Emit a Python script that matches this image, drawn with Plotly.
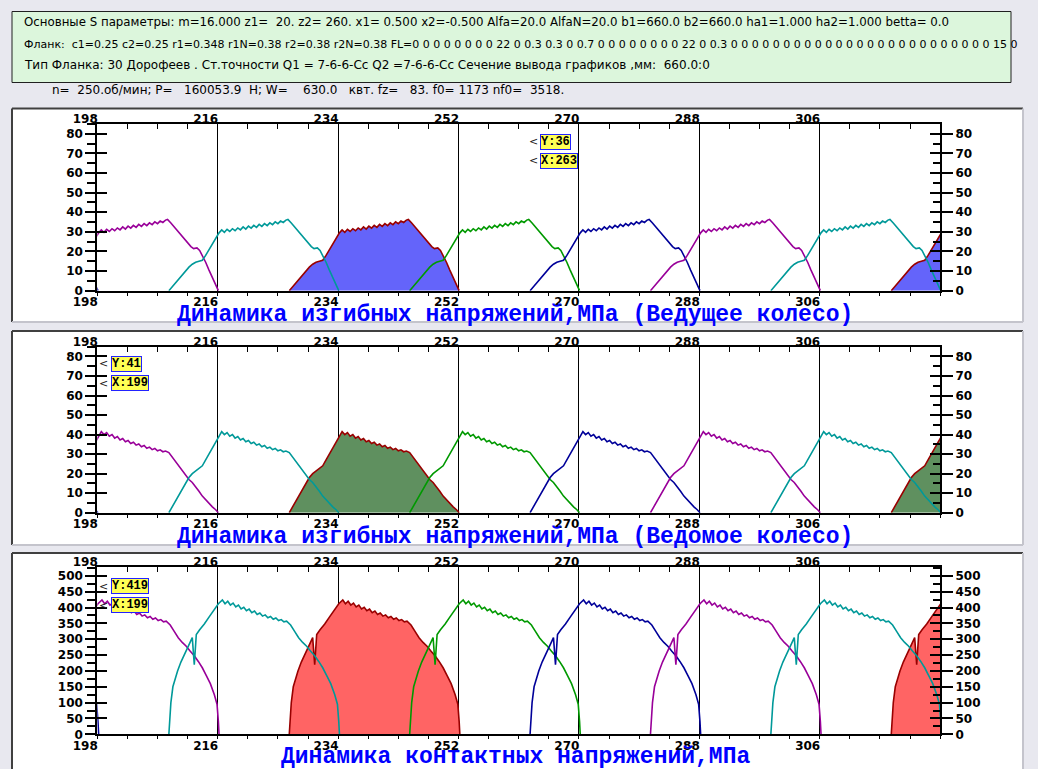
import plotly.graph_objects as go

W, H = 1038, 769

# ---------------- data ----------------
x_range = [198, 324]
x_tick_vals = [198, 216, 234, 252, 270, 288, 306]
x_minor_step = 4.5

# start angle of each tooth contact (deg) and which curve colour it gets
tooth_starts = [172.7, 190.7, 208.7, 226.7, 244.7, 262.7, 280.7, 298.7, 316.7]
tooth_roles = ["navy", "purple", "teal", "main", "green", "navy", "purple", "teal", "main"]

# one tooth: bending stress, driving gear (angle from contact start, MPa)
bend1_t = [0.0, 0.5, 1.0, 1.5, 2.0, 2.5, 3.0, 3.5, 4.0, 4.5, 5.0, 5.5, 6.0, 6.5, 7.0, 7.5,
           7.9, 8.3, 8.7, 9.1, 9.5, 9.9, 10.3, 10.7, 11.1, 11.5, 11.9, 12.3, 12.7, 13.1,
           13.5, 13.9, 14.3, 14.7, 15.1, 15.5, 15.9, 16.3, 16.7, 17.1, 17.5, 17.8,
           18.3, 18.8, 19.3, 19.8, 20.3, 20.8, 21.3, 21.7, 22.2, 22.6, 23.0, 23.5, 24.0,
           24.5, 25.0, 25.4]
bend1_v = [0, 2, 4.5, 6.5, 8.5, 10.5, 12, 13.5, 14.5, 15, 15.5, 18, 21, 24, 27, 29.5,
           31, 29.8, 31.3, 30.2, 31.6, 30.6, 32, 31, 32.5, 31.4, 32.9, 31.9, 33.3, 32.3,
           33.8, 32.8, 34.2, 33.2, 34.6, 33.7, 35.1, 34.2, 35.5, 34.8, 36, 36.3,
           34.5, 32.5, 30.5, 28.5, 26.5, 24.5, 22.5, 21.5, 21.8, 20.5, 18, 14.5, 10.5,
           6.5, 2.5, 0]

# one tooth: bending stress, driven gear
bend2_t = [0.0, 0.5, 1.0, 1.5, 2.0, 2.5, 3.0, 3.5, 4.0, 4.5, 5.0, 5.5, 6.0, 6.5, 7.0, 7.5, 7.9,
           8.3, 8.7, 9.1, 9.5, 9.9, 10.3, 10.7, 11.1, 11.5, 11.9, 12.3, 12.7, 13.1, 13.5,
           13.9, 14.3, 14.7, 15.1, 15.5, 15.9, 16.3, 16.7, 17.1, 17.5,
           18.0, 18.5, 19.0, 19.5, 20.0, 20.5, 21.0, 21.5, 22.0, 22.5, 23.0, 23.5, 24.0,
           24.5, 25.0, 25.4]
bend2_v = [0, 3, 6, 9, 12, 15.5, 18, 20, 21.5, 22.5, 24, 27, 30, 33.5, 36.5, 39.5, 41.5,
           40, 41, 39.2, 40, 38.2, 39, 37.2, 38, 36.3, 37, 35.4, 36.1, 34.6, 35.2,
           33.8, 34.4, 33, 33.6, 32.3, 32.9, 31.7, 32.2, 31.2, 31.6,
           30.8, 28.5, 26, 23.5, 21, 19, 17, 15.5, 13.5, 11, 8.5, 6.5, 4.5,
           3, 1.5, 0]

# one tooth: contact stress
contact_t = [0.0, 0.15, 0.3, 0.6, 1.0, 1.3, 1.8, 2.3, 2.8, 3.2, 3.5, 3.8, 4.1, 4.6, 5.3,
             6.0, 6.8, 7.4, 8.0,
             8.4, 8.8, 9.2, 9.6, 10.0, 10.4, 10.8, 11.2, 11.6, 12.0, 12.4, 12.8, 13.2,
             13.6, 14.0, 14.4, 14.8, 15.2, 15.6, 16.0, 16.4, 16.8, 17.2, 17.6,
             18.2, 18.8, 19.4, 20.0, 20.6, 21.2, 21.8, 22.4, 23.0, 23.6, 24.2, 24.8,
             25.2, 25.4, 25.5]
contact_v = [0, 60, 100, 150, 180, 200, 228, 252, 272, 295, 305, 220, 315, 330, 348,
             370, 395, 412, 424,
             412, 420, 408, 414, 402, 408, 396, 401, 390, 395, 384, 389, 378,
             383, 373, 377, 368, 372, 363, 367, 359, 362, 355, 357,
             345, 325, 305, 290, 278, 262, 248, 230, 210, 185, 160, 125,
             95, 40, 0]

profiles = [(bend1_t, bend1_v), (bend2_t, bend2_v), (contact_t, contact_v)]

panel_titles = ["Динамика изгибных напряжений,МПа (Ведущее колесо)",
                "Динамика изгибных напряжений,МПа (Ведомое колесо)",
                "Динамика контактных напряжений,МПа"]
panel_y_max = [85, 85, 529]
panel_y_dtick = [10, 10, 50]

readout_y = [36, 41, 419]
readout_x = [263, 199, 199]

header_lines = [
    "Основные S параметры: m=16.000 z1=  20. z2= 260. x1= 0.500 x2=-0.500 Alfa=20.0 AlfaN=20.0 b1=660.0 b2=660.0 ha1=1.000 ha2=1.000 betta= 0.0",
    "Фланк:  c1=0.25 c2=0.25 r1=0.348 r1N=0.38 r2=0.38 r2N=0.38 FL=0 0 0 0 0 0 0 0 22 0 0.3 0.3 0 0.7 0 0 0 0 0 0 0 0 22 0 0.3 0 0 0 0 0 0 0 0 0 0 0 0 0 0 0 0 0 0 0 0 0 0 0 0 0 15 0",
    "Тип Фланка: 30 Дорофеев . Ст.точности Q1 = 7-6-6-Сс Q2 =7-6-6-Сс Сечение вывода графиков ,мм:  660.0:0",
]
info_line = "n=  250.об/мин; P=   160053.9  Н; W=    630.0   квт. fz=   83. f0= 1173 nf0=  3518."

# ---------------- style / geometry ----------------
role_colors = {"navy": "#000099", "purple": "#990099", "teal": "#009999",
               "green": "#009900", "main": "#990000"}
fill_colors = ["#6464fa", "#5f905f", "#ff6464"]
plot_x_px = (97.3, 940.1)
panel_plot_px = [(124.0, 290.7), (346.7, 512.7), (566.7, 734.3)]
panel_box_px = [(108.5, 322.0), (331.0, 545.0), (553.0, 790.0)]
title_y_px = [315, 537, 757]
readout_px = [(540, 142, 160.5), (110.7, 363.7, 383.3), (110.7, 586, 605)]
header_sizes = [11.8, 11, 12]
header_y_px = [22, 44, 65]

def px(x):
    return x / W

def py(y):
    return 1 - y / H

def nb(s):
    return s.replace(" ", "\u00a0")

tick_font = dict(family="DejaVu Sans", size=12, color="black", weight="bold")

fig = go.Figure()
layout = {}
xdom = [px(plot_x_px[0]), px(plot_x_px[1])]

def key(a, kind):
    return (kind + "axis") + ("" if a in ("x", "y") else a[1:])

for p in range(3):
    xb = "x" if p == 0 else f"x{2 * p + 1}"
    xt = f"x{2 * p + 2}"
    yb = "y" if p == 0 else f"y{4 * p + 1}"
    yl2, yr1, yr2 = f"y{4 * p + 2}", f"y{4 * p + 3}", f"y{4 * p + 4}"
    ydom = [py(panel_plot_px[p][1]), py(panel_plot_px[p][0])]
    yr = [0, panel_y_max[p]]
    dt = panel_y_dtick[p]
    T, V = profiles[p]

    # filled teeth first, then line teeth on top
    for s, role in zip(tooth_starts, tooth_roles):
        if role == "main":
            fig.add_trace(go.Scatter(x=[s + t for t in T], y=V, mode="lines",
                                     line=dict(color=role_colors[role], width=1.6),
                                     fill="tozeroy", fillcolor=fill_colors[p],
                                     xaxis=xb, yaxis=yb, showlegend=False, hoverinfo="skip"))
    for s, role in zip(tooth_starts, tooth_roles):
        if role != "main":
            fig.add_trace(go.Scatter(x=[s + t for t in T], y=V, mode="lines",
                                     line=dict(color=role_colors[role], width=1.6),
                                     xaxis=xb, yaxis=yb, showlegend=False, hoverinfo="skip"))
    # empty traces so the overlaying axes (top / right / inner ticks) get drawn
    for xa, ya in ((xt, yb), (xb, yl2), (xb, yr1), (xb, yr2)):
        fig.add_trace(go.Scatter(x=[None], y=[None], mode="lines", xaxis=xa, yaxis=ya,
                                 showlegend=False, hoverinfo="skip"))

    layout[key(xb, "x")] = dict(domain=xdom, anchor=yb, range=x_range, tickmode="array",
                                tickvals=x_tick_vals, ticks="outside", ticklen=3,
                                tickcolor="black", showgrid=True, gridcolor="black",
                                gridwidth=1, zeroline=False, showline=True, linecolor="black",
                                linewidth=2, tickfont=tick_font, ticklabelshift=-12,
                                ticklabelstandoff=-4, automargin=False,
                                minor=dict(tickmode="linear", tick0=198, dtick=x_minor_step,
                                           ticks="outside", ticklen=3, tickcolor="black",
                                           showgrid=False))
    layout[key(xt, "x")] = dict(overlaying=xb, anchor=yb, side="top", range=x_range,
                                tickmode="array", tickvals=x_tick_vals, ticks="inside",
                                ticklen=5, tickcolor="black", showgrid=False, zeroline=False,
                                showline=True, linecolor="black", linewidth=2,
                                tickfont=tick_font, ticklabelshift=-12, ticklabelstandoff=-6,
                                automargin=False,
                                minor=dict(tickmode="linear", tick0=198, dtick=x_minor_step,
                                           ticks="inside", ticklen=5, tickcolor="black",
                                           showgrid=False))
    layout[key(yb, "y")] = dict(domain=ydom, anchor=xb, range=yr, dtick=dt, tick0=0,
                                ticks="outside", ticklen=10, tickcolor="black", tickwidth=1.5,
                                showgrid=False, zeroline=False, showline=True,
                                linecolor="black", linewidth=2, tickfont=tick_font,
                                automargin=False,
                                minor=dict(dtick=dt / 2, ticks="outside", ticklen=8,
                                           tickcolor="black", showgrid=False))
    layout[key(yl2, "y")] = dict(overlaying=yb, anchor=xb, side="left", range=yr, dtick=dt,
                                 tick0=0, ticks="inside", ticklen=10, tickcolor="black",
                                 tickwidth=1.5, showticklabels=False, showgrid=False,
                                 zeroline=False, showline=False, automargin=False)
    layout[key(yr1, "y")] = dict(overlaying=yb, anchor=xb, side="right", range=yr, dtick=dt,
                                 tick0=0, ticks="outside", ticklen=11, tickcolor="black",
                                 tickwidth=1.5, showgrid=False, zeroline=False, showline=True,
                                 linecolor="black", linewidth=2, tickfont=tick_font,
                                 automargin=False)
    layout[key(yr2, "y")] = dict(overlaying=yb, anchor=xb, side="right", range=yr, dtick=dt,
                                 tick0=0, ticks="inside", ticklen=10, tickcolor="black",
                                 tickwidth=1.5, showticklabels=False, showgrid=False,
                                 zeroline=False, showline=False, automargin=False,
                                 minor=dict(dtick=dt / 2, ticks="inside", ticklen=7,
                                            tickcolor="black", showgrid=False))

shapes = []
annotations = []

# header box
shapes.append(dict(type="rect", xref="paper", yref="paper", layer="below",
                   x0=px(12), x1=px(1011), y0=py(82.5), y1=py(11.5),
                   fillcolor="#dcf6dc", line=dict(color="#202020", width=1)))
for txt, yy, fs in zip(header_lines, header_y_px, header_sizes):
    annotations.append(dict(text=nb(txt), xref="paper", yref="paper", x=px(22), y=py(yy),
                            xanchor="left", yanchor="middle", showarrow=False,
                            font=dict(family="DejaVu Sans", size=fs, color="black")))
annotations.append(dict(text=nb(info_line), xref="paper", yref="paper", x=px(50), y=py(90),
                        xanchor="left", yanchor="middle", showarrow=False,
                        font=dict(family="DejaVu Sans", size=12, color="black")))

# panels
for p in range(3):
    top, bot = panel_box_px[p]
    shapes.append(dict(type="rect", xref="paper", yref="paper", layer="below",
                       x0=px(12), x1=px(1023), y0=py(bot), y1=py(top),
                       fillcolor="white", line=dict(width=0)))
    shapes.append(dict(type="line", xref="paper", yref="paper", layer="below",
                       x0=px(12), x1=px(1023), y0=py(top), y1=py(top),
                       line=dict(color="#404040", width=2)))
    shapes.append(dict(type="line", xref="paper", yref="paper", layer="below",
                       x0=px(12), x1=px(12), y0=py(bot), y1=py(top),
                       line=dict(color="#404040", width=2)))
    shapes.append(dict(type="line", xref="paper", yref="paper", layer="below",
                       x0=px(12), x1=px(1023), y0=py(bot), y1=py(bot),
                       line=dict(color="#c4c4cc", width=2)))
    shapes.append(dict(type="line", xref="paper", yref="paper", layer="below",
                       x0=px(1023), x1=px(1023), y0=py(bot), y1=py(top),
                       line=dict(color="#c4c4cc", width=2)))
    annotations.append(dict(text=panel_titles[p], xref="paper", yref="paper",
                            x=px(515), y=py(title_y_px[p]), xanchor="center",
                            yanchor="middle", showarrow=False,
                            font=dict(family="Liberation Mono", size=23, color="#0000ff",
                                      weight="bold")))
    bx, yy1, yy2 = readout_px[p]
    for lab, yy in ((f"Y:{readout_y[p]}", yy1), (f"X:{readout_x[p]}", yy2)):
        annotations.append(dict(text="&lt;", xref="paper", yref="paper", x=px(bx - 0.5),
                                y=py(yy), xanchor="right", yanchor="middle",
                                showarrow=False,
                                font=dict(family="DejaVu Sans", size=11, color="#202020")))
        annotations.append(dict(text=lab, xref="paper", yref="paper", x=px(bx), y=py(yy),
                                xanchor="left", yanchor="middle", showarrow=False,
                                bgcolor="#ffff55", bordercolor="#2222ff", borderwidth=1,
                                borderpad=0,
                                font=dict(family="Liberation Mono", size=12, color="black",
                                          weight="bold")))

fig.update_layout(width=W, height=H, margin=dict(l=0, r=0, t=0, b=0, autoexpand=False),
                  paper_bgcolor="#e8e8ef", plot_bgcolor="white", showlegend=False,
                  shapes=shapes, annotations=annotations, **layout)

fig.write_html("out.html")
